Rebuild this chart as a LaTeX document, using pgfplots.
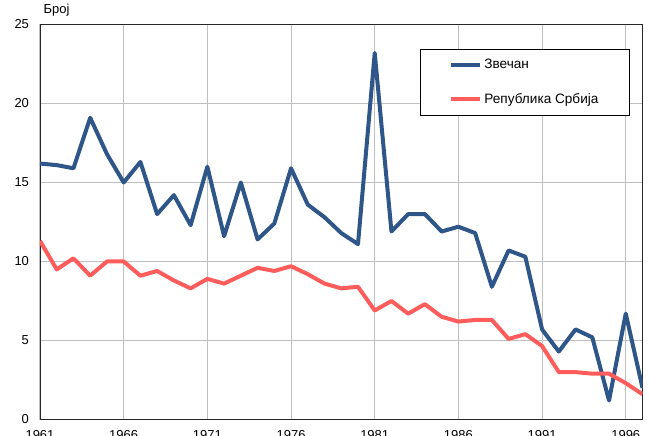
\documentclass[border=0pt]{standalone}
\usepackage{fontspec}
\setmainfont{Liberation Sans}
\usepackage{pgfplots}
\pgfplotsset{compat=1.18}
\definecolor{zblue}{RGB}{46,86,136}
\definecolor{sred}{RGB}{255,92,92}
\begin{document}
\fontsize{13}{15}\selectfont
\begin{tikzpicture}
\useasboundingbox (0,0) rectangle (650pt,436pt);
\clip (0,0) rectangle (650pt,436pt);
\begin{axis}[
  at={(40pt,16.5pt)}, anchor=south west,
  scale only axis, width=602.5pt, height=395pt,
  xmin=1961, xmax=1997, ymin=0, ymax=25,
  xtick={1961,1966,1971,1976,1981,1986,1991,1996},
  xticklabels={1961,1966,1971,1976,1981,1986,1991,1996},
  ytick={0,5,10,15,20,25},
  major tick length=0pt,
  grid=major, grid style={draw=black!25, line width=1pt},
  axis line style={black!85, line width=0.9pt},
  xticklabel style={yshift=-6pt},
  yticklabel style={xshift=-6.5pt},
  /pgf/number format/assume math mode=true,
  ticklabel style={font=\fontsize{13}{15}\selectfont},
  ylabel={Број},
  every axis y label/.style={at={(rel axis cs:0,1)}, anchor=base west, yshift=11pt, xshift=-1pt, font=\fontsize{13}{15}\selectfont},
  legend style={at={(rel axis cs:0.979,0.939)}, anchor=north east, draw=black, line width=0.8pt,
    inner xsep=29pt, inner ysep=8.5pt, row sep=18.5pt, font=\fontsize{13.6}{15}\selectfont, cells={anchor=west}},
  legend image code/.code={\draw[#1, line width=4pt] (0pt,0pt) -- (29pt,0pt);},
]
\addplot[zblue, line width=4pt, line join=round] coordinates {
(1961,16.2)(1962,16.1)(1963,15.9)(1964,19.1)(1965,16.8)(1966,15.0)(1967,16.3)(1968,13.0)(1969,14.2)(1970,12.3)
(1971,16.0)(1972,11.6)(1973,15.0)(1974,11.4)(1975,12.4)(1976,15.9)(1977,13.6)(1978,12.8)(1979,11.8)(1980,11.1)
(1981,23.2)(1982,11.9)(1983,13.0)(1984,13.0)(1985,11.9)(1986,12.2)(1987,11.8)(1988,8.4)(1989,10.7)(1990,10.3)
(1991,5.7)(1992,4.3)(1993,5.7)(1994,5.2)(1995,1.2)(1996,6.7)(1997,2.0)};
\addlegendentry{Звечан}
\addplot[sred, line width=4pt, line join=round] coordinates {
(1961,11.3)(1962,9.5)(1963,10.2)(1964,9.1)(1965,10.0)(1966,10.0)(1967,9.1)(1968,9.4)(1969,8.8)(1970,8.3)
(1971,8.9)(1972,8.6)(1973,9.1)(1974,9.6)(1975,9.4)(1976,9.7)(1977,9.2)(1978,8.6)(1979,8.3)(1980,8.4)
(1981,6.9)(1982,7.5)(1983,6.7)(1984,7.3)(1985,6.5)(1986,6.2)(1987,6.3)(1988,6.3)(1989,5.1)(1990,5.4)
(1991,4.65)(1992,3.0)(1993,3.0)(1994,2.9)(1995,2.9)(1996,2.3)(1997,1.6)};
\addlegendentry{Република Србија}
\end{axis}
\end{tikzpicture}
\end{document}
